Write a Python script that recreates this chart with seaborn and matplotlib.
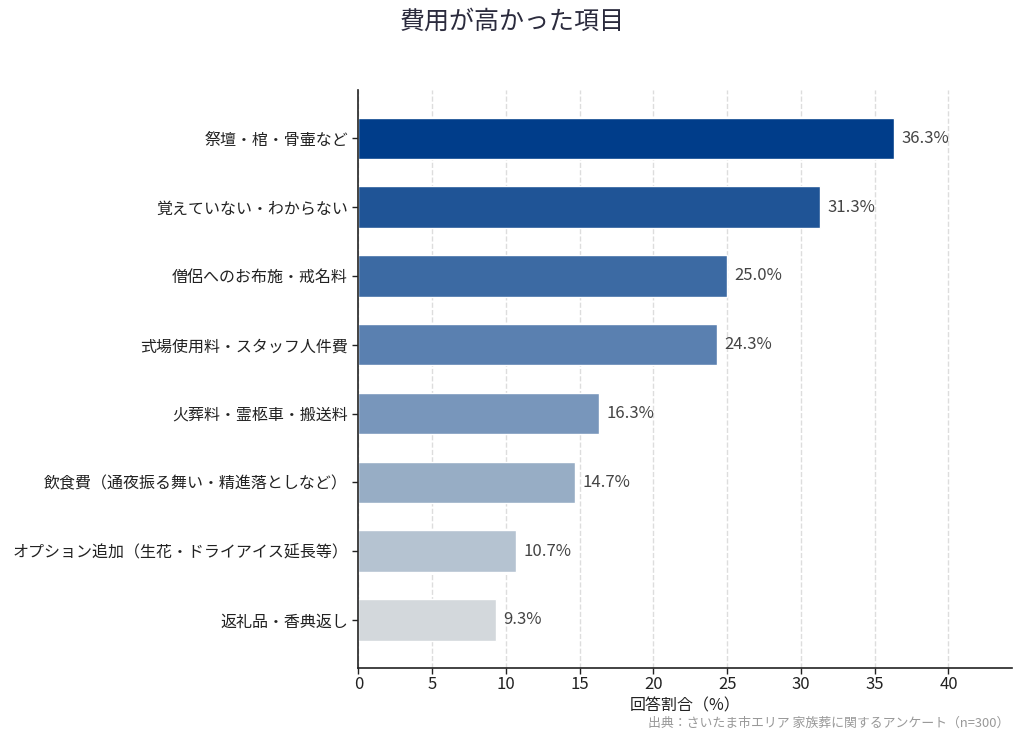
import matplotlib
matplotlib.use("Agg")
import matplotlib.pyplot as plt
import seaborn as sns
import pandas as pd

categories = [
    "祭壇・棺・骨壷など",
    "覚えていない・わからない",
    "僧侶へのお布施・戒名料",
    "式場使用料・スタッフ人件費",
    "火葬料・霊柩車・搬送料",
    "飲食費（通夜振る舞い・精進落としなど）",
    "オプション追加（生花・ドライアイス延長等）",
    "返礼品・香典返し",
]
values = [36.3, 31.3, 25.0, 24.3, 16.3, 14.7, 10.7, 9.3]
colors = ["#003d8a", "#1f5496", "#3c6aa3", "#5a80b0", "#7896bb", "#97adc5", "#b5c3d1", "#d3d8dc"]

title = "費用が高かった項目"
xlabel = "回答割合（%）"
source = "出典：さいたま市エリア 家族葬に関するアンケート（n=300）"

sns.set_theme(style="white")
plt.rcParams['font.family'] = ['Noto Sans CJK JP', 'DejaVu Sans']

df = pd.DataFrame({"category": categories, "value": values})

fig = plt.figure(figsize=(10.24, 7.39), dpi=100)
ax = fig.add_axes([0.35, 0.096, 0.638, 0.782])

sns.barplot(data=df, y="category", x="value", hue="category", palette=colors,
            legend=False, width=0.6, ax=ax, orient="h", saturation=1)

for i, v in enumerate(values):
    ax.text(v + 0.5, i, f"{v:.1f}%", va="center", ha="left", fontsize=12, color="#444444")

ax.set_xlim(0, max(values) * 1.22)
ax.set_ylim(7.7, -0.7)
ax.set_xticks(range(0, 45, 5))
ax.xaxis.grid(True, linestyle="--", color="#dddddd", linewidth=1)
ax.set_axisbelow(True)
ax.set_ylabel("")
ax.set_xlabel(xlabel, fontsize=11.5, color="#222222", labelpad=3)
ax.tick_params(axis="y", labelsize=11.5, colors="#222222", length=4, width=1, left=True)
ax.tick_params(axis="x", labelsize=12, colors="#222222", length=4, width=1, bottom=True, pad=2)
for s in ["top", "right"]:
    ax.spines[s].set_visible(False)
for s in ["left", "bottom"]:
    ax.spines[s].set_color("#222222")
    ax.spines[s].set_linewidth(1.2)

fig.suptitle(title, fontsize=18, color="#2b2b3d", y=0.988)
fig.text(0.986, 0.012, source, ha="right", va="bottom", fontsize=9.3, color="#999999")

fig.savefig("out.png", dpi=100)
